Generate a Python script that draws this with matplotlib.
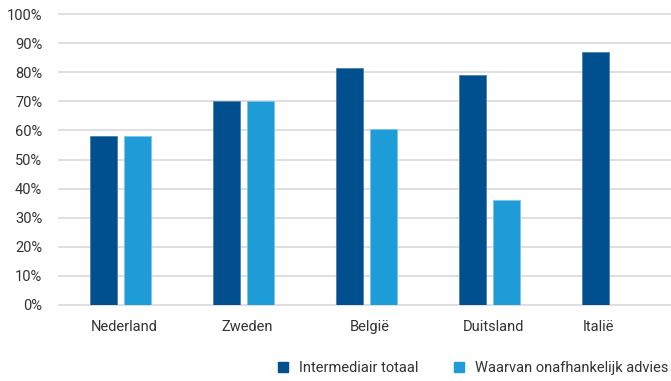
import numpy as np
import matplotlib.pyplot as plt
from matplotlib.lines import Line2D
from matplotlib.ticker import FuncFormatter

# --- Data ---
landen = ["Nederland", "Zweden", "België", "Duitsland", "Italië"]
intermediair_totaal = [58, 70, 81.5, 79, 87]
onafhankelijk_advies = [58, 70, 60.5, 36, np.nan]

donkerblauw = "#00508F"
lichtblauw = "#1E9CD7"

plt.rcParams['font.family'] = ['Roboto', 'DejaVu Sans']

fig = plt.figure(figsize=(6.71, 3.81), dpi=100)
ax = fig.add_axes([59 / 671, 76 / 381, 615 / 671, 291 / 381])

x = np.arange(len(landen))
breedte = 0.22
ax.bar(x - 0.142, intermediair_totaal, width=breedte, color=donkerblauw,
       edgecolor="#4F7FB0", linewidth=0.6, zorder=3)
ax.bar(x + 0.138, onafhankelijk_advies, width=breedte, color=lichtblauw,
       edgecolor="#7CC5EA", linewidth=0.6, zorder=3)

# Category label under the bars that actually have a value
label_pos = []
for i in range(len(landen)):
    posities = [x[i] - 0.142]
    if not np.isnan(onafhankelijk_advies[i]):
        posities.append(x[i] + 0.138)
    label_pos.append(np.mean(posities) + 0.03)

ax.set_xlim(-0.5, len(landen) - 0.5)
ax.set_ylim(0, 100)
ax.set_yticks(np.arange(0, 101, 10))
ax.yaxis.set_major_formatter(FuncFormatter(lambda v, p: f"{v:.0f}%"))
ax.set_xticks(label_pos)
ax.set_xticklabels(landen)

ax.grid(axis='y', color="#D9D9D9", linewidth=1.2, zorder=0)
for g in ax.get_ygridlines():
    g.set_clip_on(False)
for s in ax.spines.values():
    s.set_visible(False)
ax.tick_params(axis='both', length=0, labelsize=10.5, labelcolor="#333333")
ax.tick_params(axis='y', pad=12)
ax.tick_params(axis='x', pad=11)

handles = [
    Line2D([], [], marker='s', linestyle='none', markersize=7,
           markerfacecolor=donkerblauw, markeredgecolor=donkerblauw,
           label="Intermediair totaal"),
    Line2D([], [], marker='s', linestyle='none', markersize=7,
           markerfacecolor=lichtblauw, markeredgecolor=lichtblauw,
           label="Waarvan onafhankelijk advies"),
]
leg = fig.legend(handles=handles, loc='center right', bbox_to_anchor=(1.005, 0.033),
                 ncol=2, frameon=False, fontsize=10.5, handlelength=0.8,
                 handletextpad=0.7, columnspacing=2.4, borderaxespad=0)
for t in leg.get_texts():
    t.set_color("#333333")

fig.savefig("out.png", dpi=100)
